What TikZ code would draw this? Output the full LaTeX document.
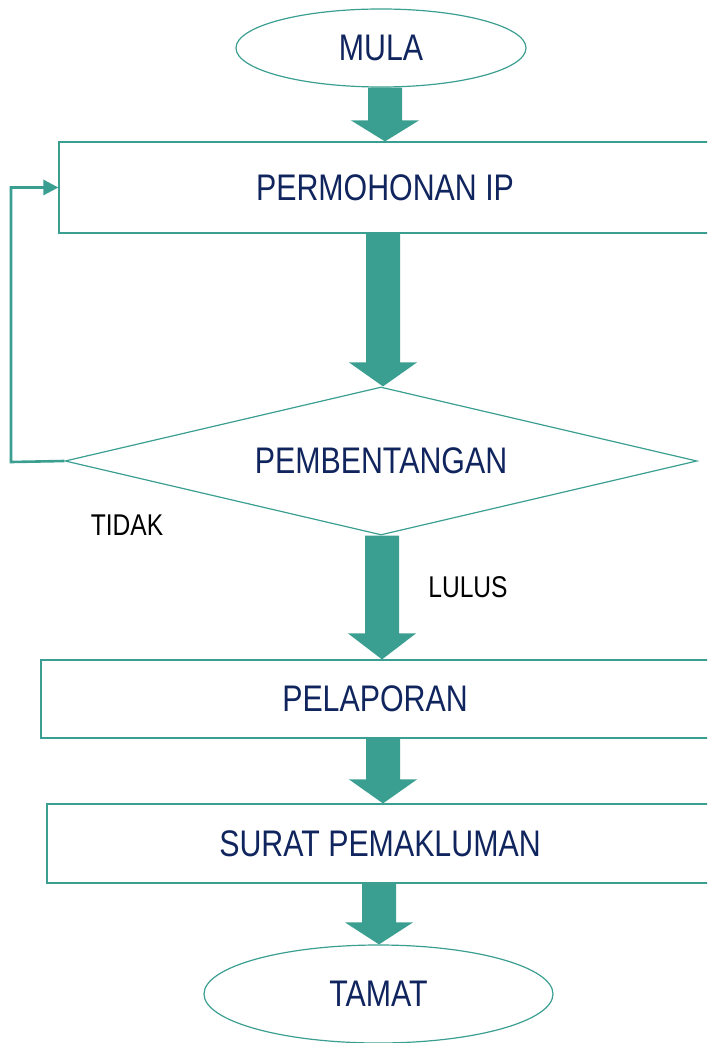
\documentclass[tikz,border=0pt]{standalone}
\usepackage{fontspec}
\setmainfont[FakeStretch=0.82]{Liberation Sans}
\usetikzlibrary{shapes.geometric,arrows.meta,calc}
\definecolor{teal1}{RGB}{58,158,145}
\definecolor{navy1}{RGB}{16,36,94}
\tikzset{
  flowline/.style={draw=teal1,line width=1.2pt},
  termbox/.style={flowline,ellipse,inner sep=0pt,text=navy1,font=\fontsize{37}{40}\selectfont},
  procbox/.style={flowline,rectangle,inner sep=0pt,text=navy1,font=\fontsize{37}{40}\selectfont},
  decbox/.style={flowline,diamond,inner sep=0pt,text=navy1,font=\fontsize{37}{40}\selectfont},
  lbl/.style={text=black,font=\fontsize{30}{34}\selectfont},
  fatfill/.style={fill=teal1,draw=none},
  backline/.style={draw=teal1,line width=2.6pt,-{Triangle[length=15pt,width=15pt]}}
}
% #1 from node anchor, #2 to node anchor, #3 arrow centre x, #4 head height
\newcommand\fatarr[4]{%
  \fill[fatfill] let \p1=(#1), \p2=(#2) in
    (#3pt-17pt,\y1) -- (#3pt+17pt,\y1) -- (#3pt+17pt,\y2+#4pt) -- (#3pt+34pt,\y2+#4pt)
    -- (#3pt,\y2) -- (#3pt-34pt,\y2+#4pt) -- (#3pt-17pt,\y2+#4pt) -- cycle;}
\begin{document}
\begin{tikzpicture}[x=1pt,y=-1pt]
\useasboundingbox (0,0) rectangle (707,1043);
\clip (0,0) rectangle (707,1043);
\node[termbox,minimum width=290,minimum height=78] (mula) at (381,48) {MULA};
\node[procbox,minimum width=652,minimum height=91] (permohonan) at (385,187.5) {PERMOHONAN IP};
\node[decbox,minimum width=632,minimum height=148,aspect=4.27] (bentang) at (381,461) {PEMBENTANGAN};
\node[procbox,minimum width=668,minimum height=78] (lapor) at (375,699) {PELAPORAN};
\node[procbox,minimum width=666,minimum height=79] (surat) at (380,843.5) {SURAT PEMAKLUMAN};
\node[termbox,minimum width=349,minimum height=98] (tamat) at (378.5,994) {TAMAT};
\node[lbl] (tidak) at (127,525) {TIDAK};
\node[lbl] (lulus) at (468,587) {LULUS};
\fatarr{mula.south}{permohonan.north}{385}{21}
\fatarr{permohonan.south}{bentang.north}{383}{24}
\fatarr{bentang.south}{lapor.north}{382}{26}
\fatarr{lapor.south}{surat.north}{383}{24}
\fatarr{surat.south}{tamat.north}{379}{22}
\coordinate (bend) at (11,462);
\draw[backline] (bentang.west) -- (bend) |- (permohonan.west);
\end{tikzpicture}
\end{document}
